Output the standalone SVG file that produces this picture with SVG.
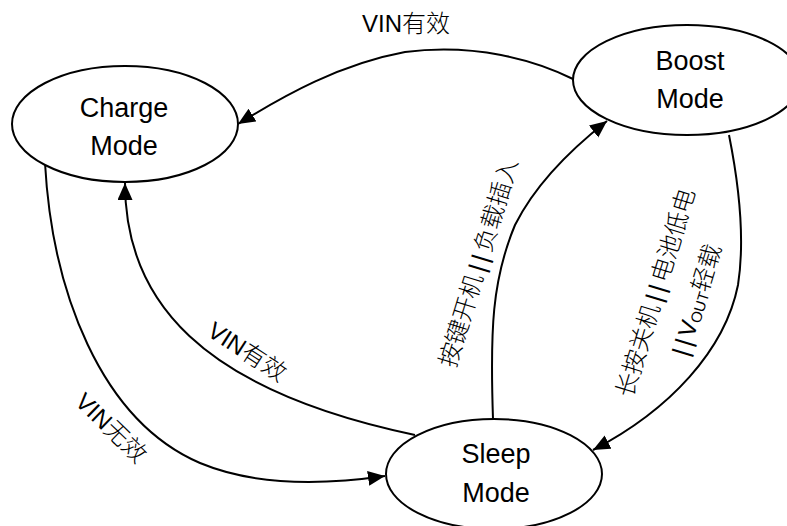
<svg xmlns="http://www.w3.org/2000/svg" width="787" height="526" viewBox="0 0 787 526">
<style>
.node ellipse{fill:#fff;stroke:#000;stroke-width:2}
.node text{font-family:"Liberation Sans","Noto Sans CJK SC",sans-serif;font-size:27px;fill:#000;text-anchor:middle}
.edge{fill:none;stroke:#000;stroke-width:2;marker-end:url(#arr)}
.lbl{font-family:"Liberation Sans","Noto Sans CJK SC",sans-serif;font-size:24px;font-weight:300;fill:#000}
.sub{font-size:15px}
</style>
<defs>
<marker id="arr" markerUnits="userSpaceOnUse" markerWidth="18" markerHeight="16" refX="17" refY="7.5" orient="auto">
<path d="M0,0 L17,7.5 L0,15 z" fill="#000"/>
</marker>
</defs>
<rect width="787" height="526" fill="#fff"/>
<g id="connectors">
<path class="edge" d="M573,79 C535,60 475,43 405,52 C340,64 285,95 238,124"/>
<path class="edge" d="M45,163 C52,290 100,420 200,463 C260,488 330,484 385,476"/>
<path class="edge" d="M415,435 C200,390 125,300 125,183"/>
<path class="edge" d="M493,419 C490,330 492,280 515,225 C535,185 570,150 607,121"/>
<path class="edge" d="M729,135 C740,190 745,240 738,285 C725,350 670,410 593,450"/>
<text class="lbl" x="362" y="32">VIN有效</text>
<text class="lbl" text-anchor="middle" y="8" transform="translate(247,352) rotate(33)">VIN有效</text>
<text class="lbl" text-anchor="middle" y="8" transform="translate(111,428) rotate(44)">VIN无效</text>
<text class="lbl" text-anchor="middle" y="8" transform="translate(479,263) rotate(-73)">按键开机<tspan dx="4">|</tspan><tspan dx="4">|</tspan><tspan dx="4">负载插入</tspan></text>
<text class="lbl" text-anchor="middle" y="8" transform="translate(656,293) rotate(-73)">长按关机<tspan dx="4">|</tspan><tspan dx="4">|</tspan><tspan dx="4">电池低电</tspan></text>
<text class="lbl" text-anchor="middle" y="8" transform="translate(697,300) rotate(-73)">|<tspan dx="4">|</tspan><tspan dx="3">V</tspan><tspan class="sub" dy="2">OUT</tspan><tspan dy="-2">轻载</tspan></text>
</g>
<g id="charge" class="node">
<ellipse cx="125" cy="124" rx="113" ry="58"/>
<text x="124" y="117">Charge</text>
<text x="124" y="155">Mode</text>
</g>
<g id="boost" class="node">
<ellipse cx="687" cy="80" rx="114" ry="55"/>
<text x="690" y="70">Boost</text>
<text x="690" y="108">Mode</text>
</g>
<g id="sleep" class="node">
<ellipse cx="494" cy="474" rx="108" ry="55"/>
<text x="496" y="463">Sleep</text>
<text x="496" y="502">Mode</text>
</g>
</svg>
